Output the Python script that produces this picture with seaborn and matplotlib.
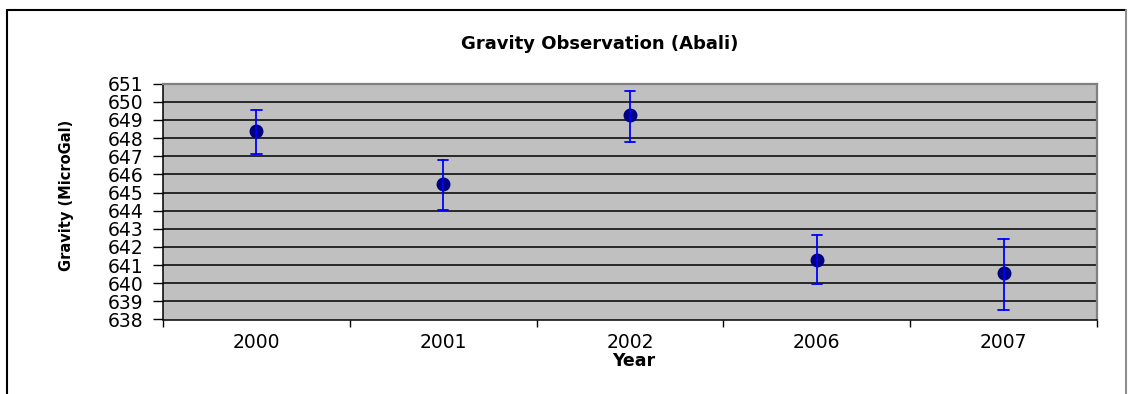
import numpy as np
import pandas as pd
import matplotlib
matplotlib.use("Agg")
import matplotlib.pyplot as plt
import seaborn as sns
from matplotlib.lines import Line2D

years = ["2000", "2001", "2002", "2006", "2007"]
gravity = [648.4, 645.45, 649.25, 641.3, 640.55]
err_low = [647.15, 644.05, 647.8, 639.95, 638.55]
err_high = [649.55, 646.8, 650.6, 642.65, 642.45]
y_ticks = list(range(638, 652))

rows = []
for yr, g, lo, hi in zip(years, gravity, err_low, err_high):
    for v in (lo, g, hi):
        rows.append({"Year": yr, "Gravity": v})
df = pd.DataFrame(rows)

sns.set_theme(style="white")
plt.rcParams["font.family"] = ["DejaVu Sans"]
plt.rcParams["text.color"] = "black"
plt.rcParams["axes.labelcolor"] = "black"
plt.rcParams["xtick.color"] = "black"
plt.rcParams["ytick.color"] = "black"

fig = plt.figure(figsize=(11.28, 3.94), dpi=100)
fig.patch.set_facecolor("white")
ax = fig.add_axes([163 / 1128, (394 - 319.5) / 394, (1097 - 163) / 1128, (319.5 - 83.7) / 394])
ax.set_facecolor("#C0C0C0")

sns.pointplot(data=df, x="Year", y="Gravity", order=years,
              estimator="median", errorbar=lambda v: (v.min(), v.max()),
              linestyle="none", color="#000080", marker="o", markersize=8,
              err_kws={"color": "#0000FF", "linewidth": 1.3},
              capsize=0.055, ax=ax, zorder=5)

ax.set_xlim(-0.5, 4.5)
ax.set_ylim(638, 651)
ax.set_yticks(y_ticks)
ax.set_yticklabels([str(t) for t in y_ticks])
for t in y_ticks[1:-1]:
    ax.axhline(t, color="black", linewidth=1.1, zorder=1)

ax.set_xticks(np.arange(-0.5, 5, 1), minor=False)
ax.set_xticklabels([])
ax.set_xticks(range(5), minor=True)
ax.set_xticklabels(years, minor=True)
ax.tick_params(axis="x", which="major", direction="out", length=5, width=1, color="black", bottom=True)
ax.tick_params(axis="x", which="minor", length=0, pad=10, labelsize=13.5, labelcolor="black")
ax.tick_params(axis="y", direction="out", length=7, width=1, color="black", left=True,
               labelsize=13.5, pad=7, labelcolor="black")

for s in ("top", "right"):
    ax.spines[s].set_color("#808080")
    ax.spines[s].set_linewidth(1.6)
for s in ("left", "bottom"):
    ax.spines[s].set_color("black")
    ax.spines[s].set_linewidth(1.1)

ax.set_xlabel("Year", fontsize=12.5, fontweight="bold", color="black")
ax.xaxis.set_label_coords((634 - 163) / (1097 - 163), -(361 - 319.5) / (319.5 - 83.7))
ax.xaxis.label.set_va("center")
ax.set_ylabel("Gravity (MicroGal)", fontsize=10.5, fontweight="bold", color="black")
ax.yaxis.set_label_coords(-(163 - 66) / (1097 - 163), (319.5 - 195) / (319.5 - 83.7))
ax.yaxis.label.set_va("center")

fig.text(600 / 1128, 1 - 44 / 394, "Gravity Observation (Abali)", ha="center", va="center",
         fontsize=13, fontweight="bold", color="black")

# outer chart-area border
fig.add_artist(Line2D([7 / 1128, 1126 / 1128], [1 - 10 / 394, 1 - 10 / 394], color="black", linewidth=1.5))
fig.add_artist(Line2D([7 / 1128, 7 / 1128], [0, 1 - 10 / 394], color="black", linewidth=1.5))
fig.add_artist(Line2D([1126 / 1128, 1126 / 1128], [0, 1 - 10 / 394], color="#909090", linewidth=1.5))

fig.savefig("out.png", dpi=100, facecolor="white")
